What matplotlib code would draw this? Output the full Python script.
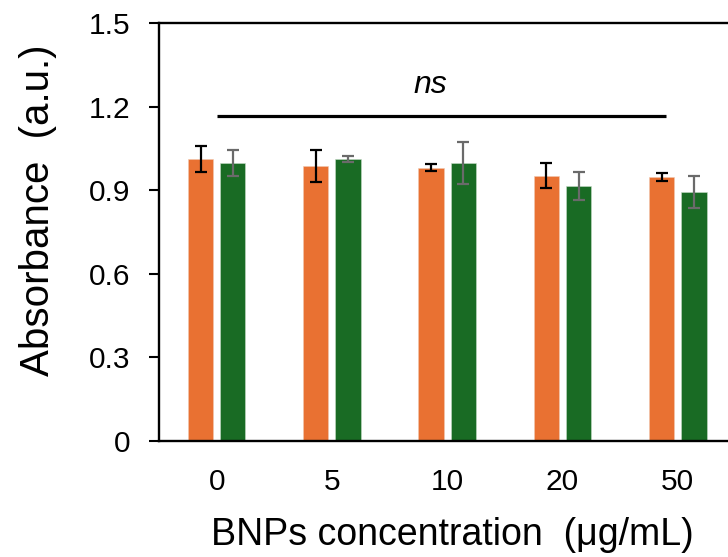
import matplotlib
matplotlib.use("Agg")
import matplotlib.pyplot as plt
import numpy as np

plt.rcParams['font.family'] = ['Liberation Sans', 'DejaVu Sans']

categories = ['0', '5', '10', '20', '50']
series_a = [1.011, 0.986, 0.981, 0.952, 0.948]
series_a_err = [0.047, 0.057, 0.013, 0.045, 0.013]
series_b = [0.998, 1.011, 0.998, 0.915, 0.895]
series_b_err = [0.046, 0.011, 0.077, 0.049, 0.057]
yticks = [0, 0.3, 0.6, 0.9, 1.2, 1.5]
ytick_labels = ['0', '0.3', '0.6', '0.9', '1.2', '1.5']

color_a = '#E97132'
color_b = '#196B24'

fig = plt.figure(figsize=(7.28, 5.57), dpi=100)
ax = fig.add_axes([0.2184, 0.2088, 0.7919, 0.7494])

x = np.arange(len(categories))
w = 0.22
off = 0.14
ax.bar(x - off, series_a, width=w, color=color_a, edgecolor='#f0c8b0', linewidth=0.4,
       yerr=series_a_err, error_kw=dict(ecolor='black', elinewidth=1.6, capsize=4.5, capthick=1.6))
ax.bar(x + off, series_b, width=w, color=color_b, edgecolor='#c8dcc8', linewidth=0.4,
       yerr=series_b_err, error_kw=dict(ecolor='#6a6a6a', elinewidth=1.6, capsize=4.5, capthick=1.6))

# significance annotation
ax.plot([0, 3.9], [1.167, 1.167], color='black', linewidth=2.3, solid_capstyle='butt')
ax.text(1.85, 1.278, 'ns', ha='center', va='center', fontsize=23, style='italic')

ax.set_xlim(-0.5, 4.5)
ax.set_ylim(0, 1.5)
ax.set_yticks(yticks)
ax.set_yticklabels(ytick_labels)
ax.set_xticks(x)
ax.set_xticklabels(categories)
ax.tick_params(axis='y', direction='out', length=7.5, width=1.5, labelsize=21.5, pad=13)
ax.tick_params(axis='x', length=0, labelsize=21.5, pad=20)

for side in ['left', 'bottom', 'top']:
    ax.spines[side].set_linewidth(1.7)
    ax.spines[side].set_color('black')
ax.spines['right'].set_visible(False)

fig.text(452 / 728, (557 - 545) / 557, 'BNPs concentration  (\u03bcg/mL)', ha='center',
         va='baseline', fontsize=27)
fig.text(38 / 728, 1 - 210 / 557, 'Absorbance  (a.u.)', rotation=90, ha='center',
         va='center', fontsize=29)

fig.savefig('out.png', dpi=100)
